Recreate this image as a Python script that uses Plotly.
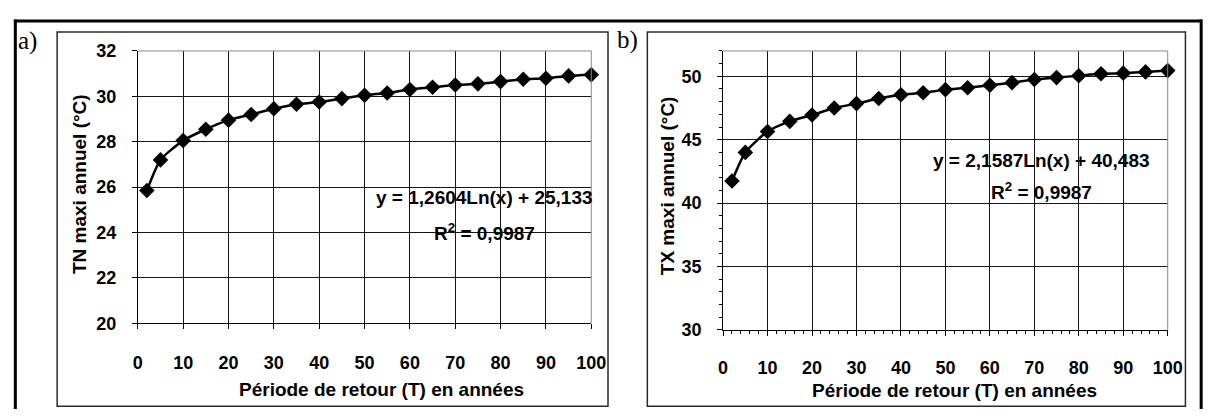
import plotly.graph_objects as go

W, H = 1226, 419

# ---- data ----
periods = [2, 5, 10, 15, 20, 25, 30, 35, 40, 45, 50, 55, 60, 65, 70, 75, 80, 85, 90, 95, 100]
tn_max = [25.85, 27.2, 28.05, 28.55, 28.95, 29.2, 29.45, 29.65, 29.75, 29.9, 30.05,
          30.15, 30.3, 30.4, 30.5, 30.55, 30.65, 30.75, 30.8, 30.9, 30.95]
tx_max = [41.75, 44.0, 45.65, 46.45, 46.95, 47.5, 47.85, 48.25, 48.55, 48.7, 48.95,
          49.1, 49.3, 49.5, 49.75, 49.9, 50.05, 50.2, 50.25, 50.35, 50.45]
eq_a = ["y = 1,2604Ln(x) + 25,133", "R<sup>2</sup> = 0,9987"]
eq_b = ["y = 2,1587Ln(x) + 40,483", "R<sup>2</sup> = 0,9987"]
x_title = "Période de retour (T) en années"
y_title_a = "TN maxi annuel (°C)"
y_title_b = "TX maxi annuel (°C)"


def px(x):
    return x / W


def py(y):
    return 1 - y / H


FONT = "Liberation Sans"
tickfont = dict(family=FONT, size=18, color="black", weight="bold")

fig = go.Figure()
for xs, ys, xa, ya in [(periods, tn_max, "x", "y"), (periods, tx_max, "x2", "y2")]:
    fig.add_trace(go.Scatter(
        x=xs, y=ys, mode="lines+markers", xaxis=xa, yaxis=ya,
        line=dict(color="black", width=2.5, shape="spline", smoothing=0.6),
        marker=dict(symbol="diamond", size=12, color="black"),
        cliponaxis=False, showlegend=False, hoverinfo="skip",
    ))

axis_common = dict(showline=True, linecolor="black", linewidth=1, ticks="outside",
                   ticklen=5, tickcolor="black", tickwidth=1, showgrid=True,
                   gridcolor="#151515", gridwidth=1, zeroline=False, tickfont=tickfont,
                   fixedrange=True)

fig.update_layout(
    width=W, height=H, margin=dict(l=0, r=0, t=0, b=0),
    paper_bgcolor="white", plot_bgcolor="white",
    xaxis=dict(domain=[px(135), px(596)], range=[0, 100], dtick=10, tick0=0,
               anchor="y", ticklabelstandoff=18, **axis_common),
    yaxis=dict(domain=[py(329), py(43)], range=[20, 32], dtick=2, tick0=20,
               anchor="x", ticklabelstandoff=12, **axis_common),
    xaxis2=dict(domain=[px(730), px(1182)], range=[0, 100], dtick=10, tick0=0,
                anchor="y2", ticklabelstandoff=16,
                minor=dict(dtick=2, ticks="outside", ticklen=3, tickcolor="black", showgrid=False),
                **axis_common),
    yaxis2=dict(domain=[py(336), py(43)], range=[30, 52], dtick=5, tick0=30,
                anchor="x2", ticklabelstandoff=12,
                minor=dict(dtick=1, ticks="outside", ticklen=3, tickcolor="black", showgrid=False),
                **axis_common),
)

shapes = []
# plot-area frames (gray top / right edges)
for x0, x1, y0, y1 in [(135, 596, 329, 43), (730, 1182, 336, 43)]:
    shapes.append(dict(type="line", xref="paper", yref="paper",
                       x0=px(x0), x1=px(x1), y0=py(y1), y1=py(y1),
                       line=dict(color="#8a8a8a", width=1)))
    shapes.append(dict(type="line", xref="paper", yref="paper",
                       x0=px(x1), x1=px(x1), y0=py(y0), y1=py(y1),
                       line=dict(color="#8a8a8a", width=1)))
# panel frames
for x0, x1 in [(53, 613), (653, 1200)]:
    shapes.append(dict(type="rect", xref="paper", yref="paper",
                       x0=px(x0), x1=px(x1), y0=py(416), y1=py(23),
                       line=dict(color="#2a2a2a", width=1.5)))
# thick outer border
shapes.append(dict(type="line", xref="paper", yref="paper", x0=px(9), x1=px(1217),
                   y0=py(11.5), y1=py(11.5), line=dict(color="black", width=3)))
shapes.append(dict(type="line", xref="paper", yref="paper", x0=px(10.5), x1=px(10.5),
                   y0=py(10), y1=py(419), line=dict(color="black", width=3)))
shapes.append(dict(type="line", xref="paper", yref="paper", x0=px(1216), x1=px(1216),
                   y0=py(10), y1=py(419), line=dict(color="black", width=3)))
fig.update_layout(shapes=shapes)

ann = []
lab = dict(family=FONT, size=19, color="black", weight="bold")
eqf = dict(family=FONT, size=19, color="black", weight="bold")
# equations
for (cx, y1, y2), eq in [((487, 197, 233), eq_a), ((1054, 158, 190), eq_b)]:
    ann.append(dict(text=eq[0], x=px(cx), y=py(y1), xref="paper", yref="paper",
                    showarrow=False, xanchor="center", yanchor="middle", font=eqf))
    ann.append(dict(text=eq[1], x=px(cx), y=py(y2), xref="paper", yref="paper",
                    showarrow=False, xanchor="center", yanchor="middle", font=eqf))
# axis titles
for cx, cy in [(383, 398), (965, 400)]:
    ann.append(dict(text=x_title, x=px(cx), y=py(cy), xref="paper", yref="paper",
                    showarrow=False, xanchor="center", yanchor="middle", font=lab))
for (cx, cy), t in [((76, 183), y_title_a), ((673, 185), y_title_b)]:
    ann.append(dict(text=t, x=px(cx), y=py(cy), xref="paper", yref="paper",
                    showarrow=False, xanchor="center", yanchor="middle", textangle=-90,
                    font=lab))
# panel letters
serif = dict(family="Liberation Serif", size=25, color="black")
for t, cx, cy in [("a)", 23, 33), ("b)", 633, 32)]:
    ann.append(dict(text=t, x=px(cx), y=py(cy), xref="paper", yref="paper",
                    showarrow=False, xanchor="center", yanchor="middle", font=serif))
fig.update_layout(annotations=ann)

fig.write_html("out.html")
